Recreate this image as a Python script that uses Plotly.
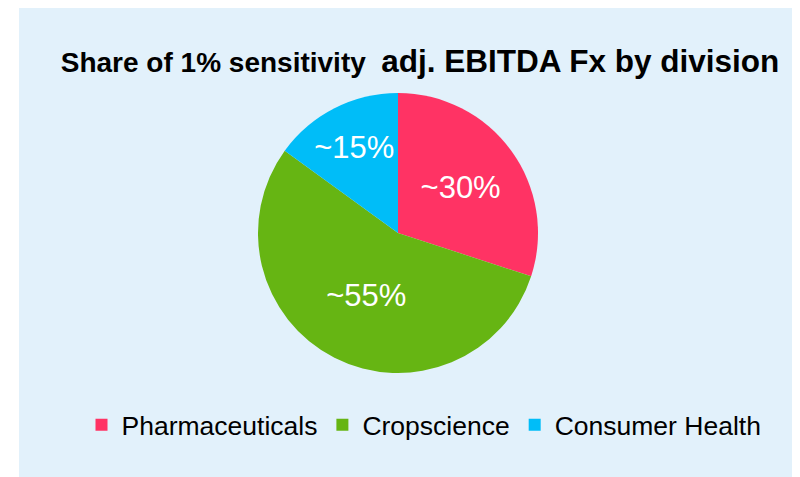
import plotly.graph_objects as go

categories = ["Pharmaceuticals", "Cropscience", "Consumer Health"]
shares = [30, 55, 15]
labels_text = ["~30%", "~55%", "~15%"]
colors = ["#FF3364", "#66B513", "#00BDF8"]

W, H = 800, 477
OFF = 8  # page body margin
bg = "#E2F1FB"

def px(x):
    return (x - OFF) / W

def py(y):
    return 1 - (y - OFF) / H

fig = go.Figure(go.Pie(
    labels=categories,
    values=shares,
    text=labels_text,
    textinfo="text",
    textposition="inside",
    insidetextorientation="horizontal",
    textfont=dict(color="white", size=31, family="Liberation Sans, Arial, sans-serif"),
    marker=dict(colors=colors, line=dict(width=0)),
    sort=False,
    direction="clockwise",
    rotation=0,
    hoverinfo="none",
    domain=dict(x=[px(398 - 140), px(398 + 140)], y=[py(373), py(93)]),
))

fig.update_layout(
    width=W, height=H,
    margin=dict(l=0, r=0, t=0, b=0),
    paper_bgcolor="white",
    font=dict(family="Liberation Sans, Arial, sans-serif", color="black"),
    title=dict(
        text="<b>Share of 1% sensitivity\u00a0 <span style='font-size:31.5px'>adj. EBITDA Fx by division</span></b>",
        font=dict(size=28, color="black"),
        x=px(420), xanchor="center", xref="paper",
        y=py(62), yanchor="middle", yref="paper",
    ),
    legend=dict(
        orientation="h",
        x=px(424), xanchor="center",
        y=py(425), yanchor="middle",
        font=dict(size=26.5, color="black"),
        bgcolor="rgba(0,0,0,0)",
    ),
    shapes=[dict(type="rect", xref="paper", yref="paper",
                 x0=px(19), x1=1.05, y0=-0.05, y1=py(6),
                 fillcolor=bg, line=dict(width=0), layer="below")],
)

fig.write_html("out.html")
